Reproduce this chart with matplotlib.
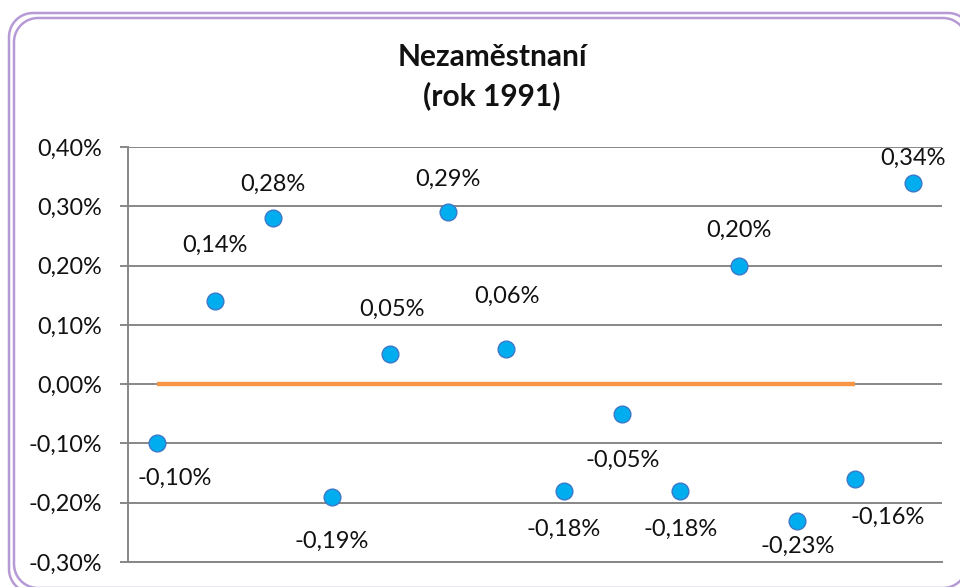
import numpy as np
import matplotlib.pyplot as plt
from matplotlib.path import Path
from matplotlib.patches import PathPatch
from matplotlib.ticker import FuncFormatter

# data (unemployment change, %)
periods = list(range(1, 15))
values = [-0.10, 0.14, 0.28, -0.19, 0.05, 0.29, 0.06, -0.18, -0.05, -0.18, 0.20, -0.23, -0.16, 0.34]
zero_line_x = [1, 13]
zero_line_y = [0.0, 0.0]
y_ticks = [-0.30, -0.20, -0.10, 0.0, 0.10, 0.20, 0.30, 0.40]
title_lines = ['Nezaměstnaní', '(rok 1991)']

# label offsets in pixels (dx, dy) relative to each point
label_offsets = [(18, -35), (0, 56), (0, 34), (0, -45), (2, 45), (0, 33), (1, 52), (0, -38),
                 (0, -47), (0, -38), (0, 35), (1, -26), (33, -38), (0, 24)]

plt.rcParams['font.family'] = ['Lato', 'DejaVu Sans']

W, H = 960, 587
fig = plt.figure(figsize=(W / 100, H / 100), dpi=100)


def rounded_frame(x0, y0, x1, y1, r):
    """Rounded rectangle given in image pixels (y down), returned in figure fractions."""
    pts = []
    corners = [(x1 - r, y0 + r, -90, 0), (x1 - r, y1 - r, 0, 90),
               (x0 + r, y1 - r, 90, 180), (x0 + r, y0 + r, 180, 270)]
    for cx, cy, a0, a1 in corners:
        a = np.radians(np.linspace(a0, a1, 20))
        pts += list(zip(cx + r * np.cos(a), cy + r * np.sin(a)))
    pts.append(pts[0])
    pts = np.array(pts)
    pts[:, 0] /= W
    pts[:, 1] = 1 - pts[:, 1] / H
    return Path(pts)


# double rounded frame, partly cut by the image edge
frame_color = '#B69AD6'
for box in [(9, 13, 972, 593), (14, 18, 967, 588)]:
    fig.patches.append(PathPatch(rounded_frame(*box, 24), transform=fig.transFigure,
                                 facecolor='none', edgecolor=frame_color, linewidth=1.8))

ax = fig.add_axes([128 / W, 1 - 562 / H, (942 - 128) / W, (562 - 147) / H])

ax.set_xlim(0.5, 14.5)
ax.set_ylim(-0.30, 0.40)
ax.set_yticks(y_ticks)
ax.yaxis.set_major_formatter(FuncFormatter(lambda v, p: f'{v:.2f}%'.replace('.', ',').replace('-0,00', '0,00')))
ax.set_xticks([])

grid_color = '#878787'
ax.grid(axis='y', color=grid_color, linewidth=1.4)
ax.set_axisbelow(True)
for side in ['top', 'right']:
    ax.spines[side].set_visible(False)
for side in ['left', 'bottom']:
    ax.spines[side].set_color(grid_color)
    ax.spines[side].set_linewidth(1.4)
ax.tick_params(axis='y', length=6, width=1.4, color=grid_color, labelsize=16.8, pad=12.5, labelcolor='#111111')

ax.plot(zero_line_x, zero_line_y, color='#F79646', linewidth=3.2, solid_capstyle='butt', zorder=3)
ax.scatter(periods, values, s=145, color='#00AEEF', edgecolor='#3C78C8', linewidth=1.0, zorder=4)

for x, v, (dx, dy) in zip(periods, values, label_offsets):
    ax.annotate(f'{v:.2f}%'.replace('.', ','), (x, v), xytext=(dx, dy), textcoords='offset pixels',
                ha='center', va='center', fontsize=17, color='#111111', zorder=5)

for line, ypix in zip(title_lines, [57, 96]):
    fig.text(492 / W, 1 - ypix / H, line, ha='center', va='center', fontsize=21.5,
             fontweight='bold', color='#111111')

fig.savefig('out.png', dpi=100)
